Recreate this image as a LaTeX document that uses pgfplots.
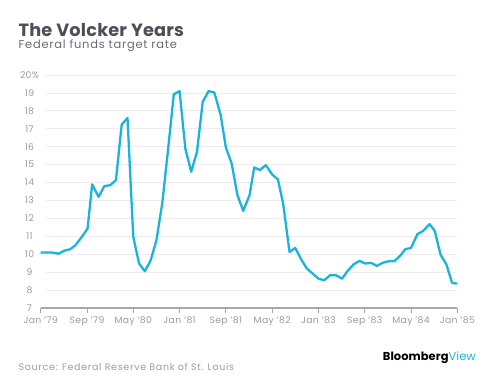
\documentclass[border=0pt]{standalone}
\usepackage{fontspec}
\setmainfont{Poppins}
\usepackage{pgfplots}
\pgfplotsset{compat=1.18}
\definecolor{linecyan}{HTML}{1BB3DB}
\definecolor{titlegrey}{HTML}{4E4E58}
\definecolor{subgrey}{HTML}{6A6A72}
\definecolor{tickgrey}{HTML}{9A9AA2}
\definecolor{gridgrey}{HTML}{EDEDED}
\definecolor{axisgrey}{HTML}{A8A8A8}
\newcommand{\tickfont}{\fontsize{9.3}{11}\selectfont\addfontfeatures{LetterSpace=4}}
\begin{document}
\begin{tikzpicture}[x=1bp,y=1bp]
\path[use as bounding box] (0,0) rectangle (500,382);
\begin{axis}[
  at={(40.7bp,74bp)}, anchor=south west,
  scale only axis, width=416.6bp, height=233bp,
  xmin=0, xmax=72, ymin=7, ymax=20,
  axis x line*=bottom, axis y line=none,
  axis line style={axisgrey, line width=1.3pt},
  x axis line style={-},
  xtick={0,8,...,72},
  xticklabels={Jan '79,Sep '79,May '80,Jan '81,Sep '81,May '82,Jan '83,Sep '83,May '84,Jan '85},
  xtick style={axisgrey, line width=0.8pt},
  tick align=outside, major tick length=4.5bp,
  xticklabel style={font=\tickfont, text=tickgrey, yshift=-1bp},
  ytick=\empty,
  clip=false,
]
\foreach \v in {8,...,20} {
  \edef\tmp{\noexpand\draw[gridgrey, line width=0.8pt] (axis cs:0.87,\v) -- (axis cs:72,\v);}
  \tmp
}
\foreach \v in {7,...,19} {
  \edef\tmp{\noexpand\node[font=\noexpand\tickfont, text=tickgrey, anchor=center] at ([xshift=-11.2bp]axis cs:0,\v) {\v};}
  \tmp
}
\node[font=\tickfont, text=tickgrey, anchor=center] at ([xshift=-11.2bp]axis cs:0,20) {20\%};
\addplot[linecyan, line width=2.3pt, line join=round] coordinates {
(0,10.09) (1.9,10.1) (3.1,10.03) (4.1,10.2) (5.1,10.28) (6,10.5) (7.1,10.97) (8.1,11.43)
(8.9,13.9) (10,13.2) (11,13.8) (12,13.85) (13,14.13) (14,17.24) (15,17.6) (16,10.97)
(17,9.48) (18,9.05) (19,9.66) (20,10.78) (21,12.83) (22,15.8) (23,18.92) (24,19.1)
(25,15.9) (26,14.6) (27,15.7) (28,18.5) (29,19.1) (30,19.03) (31.1,17.77) (32,15.96)
(33,15.07) (34,13.3) (35,12.42) (36.1,13.3) (36.9,14.84) (37.9,14.7) (38.9,14.97)
(40,14.45) (41,14.17) (41.9,12.83) (43,10.13) (44,10.35) (45,9.72) (46,9.2) (47,8.92)
(48,8.64) (49,8.55) (50,8.83) (51,8.83) (52.1,8.64) (53,9.05) (54.1,9.44) (55.1,9.63)
(56.1,9.48) (57.1,9.52) (58.1,9.35) (59.1,9.52) (60.1,9.61) (61.1,9.61) (62.2,9.94)
(63,10.28) (64,10.35) (65.1,11.12) (66.1,11.3) (67.2,11.68) (68.1,11.3) (69.1,9.98)
(70.1,9.44) (71.1,8.4) (72,8.36)
};
\end{axis}
\node[anchor=base west, font=\fontsize{17.8}{20}\selectfont\bfseries\addfontfeatures{LetterSpace=1}, text=titlegrey, inner sep=0] at (18.5,346) {The Volcker Years};
\node[anchor=base west, font=\fontsize{11.5}{14}\selectfont\addfontfeatures{LetterSpace=6.6}, text=subgrey, inner sep=0] at (18.5,333.5) {Federal funds target rate};
\node[anchor=base west, font=\fontsize{9.5}{11}\selectfont\addfontfeatures{LetterSpace=7.5}, text=tickgrey, inner sep=0] at (18.5,11.3) {Source: Federal Reserve Bank of St. Louis};
\node[anchor=base east, font=\fontsize{11.5}{12}\selectfont\bfseries\addfontfeatures{LetterSpace=0.5}, inner sep=0] at (476,21.5) {Bloomberg\textcolor{linecyan}{\mdseries\addfontfeatures{LetterSpace=0.5}View}};
\end{tikzpicture}
\end{document}
